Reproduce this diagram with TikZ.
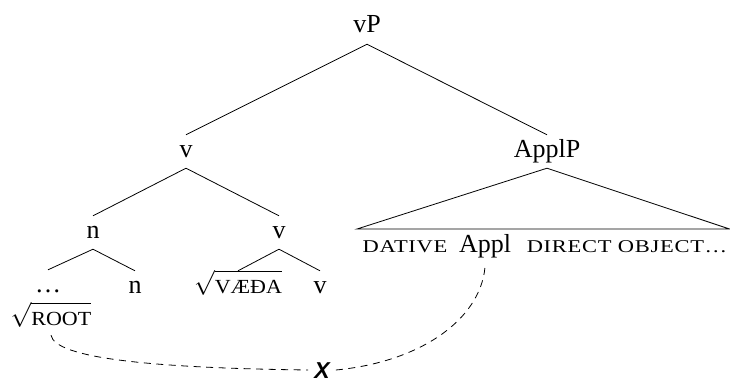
\documentclass[tikz,border=0pt]{standalone}
\usepackage{amsmath}
\usepackage{exscale}
\usepackage{fontspec}
\setmainfont{Liberation Serif}
\newfontfamily\capsfont[FakeStretch=1.1]{Liberation Serif}
\newfontfamily\scfont[FakeStretch=1.25,LetterSpace=4]{Liberation Serif}
\newfontfamily\xfont{Liberation Sans}
\newcommand{\capsbox}[1]{\hbox{\rule{0pt}{17.5pt}\fontsize{20}{24}\capsfont #1}}
\begin{document}
\begin{tikzpicture}[x=1pt,y=-1pt,
  lbl/.style={font=\fontsize{26}{30}\selectfont, inner sep=0pt, text height=22pt, text depth=11pt, anchor=base},
  rootlbl/.style={font=\fontsize{26}{30}\selectfont, inner sep=0pt, text depth=10pt, anchor=base},
  sctext/.style={font=\fontsize{18}{21}\scfont, inner sep=0pt, anchor=base},
  appltext/.style={font=\fontsize{26}{30}\selectfont, inner sep=0pt, text depth=15pt, anchor=base},
  xmark/.style={font=\fontsize{23}{27}\xfont\bfseries\itshape, inner xsep=6pt, inner ysep=0pt, text height=16pt, text depth=0pt},
  br/.style={line width=0.8pt},
  dsh/.style={line width=0.8pt, dash pattern=on 7pt off 5.5pt}]
\useasboundingbox (0,0) rectangle (730,385);
% tree labels
\node[lbl] (vP) at (367,33) {vP};
\node[lbl] (v1) at (186,157) {v};
\node[lbl] (ApplP) at (547,157) {ApplP};
\node[lbl] (n1) at (93,238) {n};
\node[lbl] (v2) at (279,238) {v};
\node[lbl] (dots) at (48,292) {\dots};
\node[lbl] (n2) at (135,293) {n};
\node[lbl] (vaeda) at (238,293) {$\sqrt{\capsbox{VÆĐA}}$};
\node[lbl] (v3) at (320,293) {v};
\node[rootlbl] (root) at (51,325) {$\sqrt{\capsbox{ROOT}}$};
% branches
\draw[br] (vP.south) -- (v1.north);
\draw[br] (vP.south) -- (ApplP.north);
\draw[br] (v1.south) -- (n1.north);
\draw[br] (v1.south) -- (v2.north);
\draw[br] (n1.south) -- (dots.north);
\draw[br] (n1.south) -- (n2.north);
\draw[br] (v2.south) -- (vaeda.north);
\draw[br] (v2.south) -- (v3.north);
% triangle
\coordinate (tl) at (357,229);
\coordinate (tr) at (729.5,229);
\draw[br, line join=miter] (tl) -- (ApplP.south) -- (tr) -- cycle;
% text under triangle
\node[sctext] (dat) at (405,252) {DATIVE};
\node[appltext] (appl) at (485,252) {Appl};
\node[sctext] (dobj) at (627,252) {DIRECT OBJECT…};
% X mark and dashed curve
\node[xmark] (X) at (322,370) {X};
\draw[dsh] (root.south) .. controls (55,358) and (150,368) .. (X.west);
\draw[dsh] (X.east) .. controls (420,362) and (480,320) .. (appl.south);
\end{tikzpicture}
\end{document}
